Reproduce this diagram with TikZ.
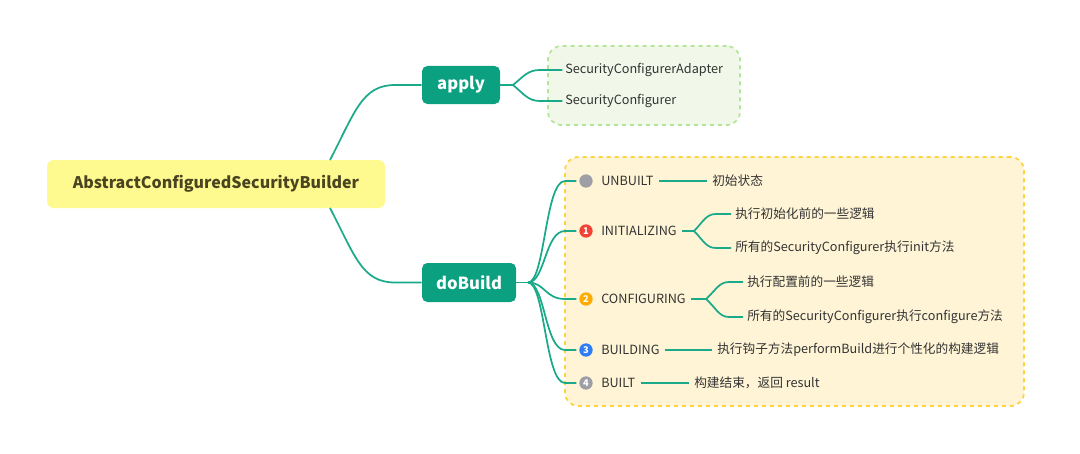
\documentclass[tikz,border=0pt]{standalone}
\usepackage{fontspec}
\setmainfont{Noto Sans CJK SC}
\usetikzlibrary{positioning}
\definecolor{teal1}{HTML}{0BA080}
\definecolor{conn}{HTML}{1AAA8A}
\definecolor{rootfill}{HTML}{FFFA90}
\definecolor{roottext}{HTML}{4A4520}
\definecolor{gfill}{HTML}{F1F8E9}
\definecolor{gborder}{HTML}{B5E59A}
\definecolor{yfill}{HTML}{FFF5D6}
\definecolor{yborder}{HTML}{FDD33F}
\definecolor{txt}{HTML}{333333}
\definecolor{bgray}{HTML}{9E9EA6}
\definecolor{bred}{HTML}{F44336}
\definecolor{borange}{HTML}{FFAB00}
\definecolor{bblue}{HTML}{2E7CF6}
\begin{document}
\begin{tikzpicture}[x=0.75pt,y=-0.75pt,
  line/.style={draw=conn,line width=1.3pt},
  lbl/.style={anchor=west,inner sep=0pt,text=txt,font=\fontsize{9.5}{11}\selectfont},
  mainbox/.style={fill=teal1,rounded corners=4pt,text=white,font=\fontsize{12.5}{14}\selectfont\bfseries,inner sep=0pt},
  bullet/.style={circle,fill=#1,minimum size=10pt,inner sep=0pt,text=white,font=\fontsize{7}{7}\selectfont\bfseries}
]
\useasboundingbox (0,0) rectangle (1080,453);
% background groups
\node[draw=gborder,fill=gfill,dashed,line width=1.3pt,rounded corners=10pt,minimum width=192*0.75pt,minimum height=79*0.75pt,inner sep=0pt] (gbox) at (644,85.5) {};
\node[draw=yborder,fill=yfill,dashed,line width=1.3pt,rounded corners=10pt,minimum width=459*0.75pt,minimum height=249*0.75pt,inner sep=0pt] (ybox) at (794.5,281.5) {};
% root
\node[fill=rootfill,rounded corners=5pt,minimum width=338*0.75pt,minimum height=48*0.75pt,inner sep=0pt,text=roottext,font=\fontsize{12}{14}\selectfont\bfseries] (root) at (216,184) {AbstractConfiguredSecurityBuilder};
% main nodes
\node[mainbox,minimum width=78*0.75pt,minimum height=38*0.75pt] (apply) at (461,85) {apply};
\node[mainbox,minimum width=94*0.75pt,minimum height=39*0.75pt] (dob) at (469,282.5) {doBuild};
% root connectors
\coordinate (rt) at (330,160);
\coordinate (rb) at (330,208);
\draw[line] (rt) .. controls (355,112) and (362,85) .. (395,85) -- (apply.west);
\draw[line] (rb) .. controls (355,256) and (362,282.5) .. (395,282.5) -- (dob.west);
% apply children
\node[lbl] (sca) at (565,70) {SecurityConfigurerAdapter};
\node[lbl] (sc) at (565,101) {SecurityConfigurer};
\coordinate (aj) at (513,85);
\draw[line] (apply.east) -- (aj);
\draw[line] (aj) .. controls (524,76) and (528,70) .. (540,70) -- ([xshift=-2pt]sca.west);
\draw[line] (aj) .. controls (524,94) and (528,101) .. (540,101) -- ([xshift=-2pt]sc.west);
% doBuild children
\coordinate (dj) at (528,282.5);
\draw[line] (dob.east) -- (dj);
\node[bullet=bgray] (b0) at (586,181) {};
\node[bullet=bred] (b1) at (586,231) {1};
\node[bullet=borange] (b2) at (586,299) {2};
\node[bullet=bblue] (b3) at (586,350) {3};
\node[bullet=bgray] (b4) at (586,383) {4};
\foreach \b/\y in {b0/181,b1/231,b2/299,b3/350,b4/383}{
  \draw[line] (dj) .. controls (545,282.5) and (545,\y) .. (565,\y) -- ([xshift=-2pt]\b.west);
}
\node[lbl] (unbuilt) at (601,181) {UNBUILT};
\node[lbl] (init) at (601,231) {INITIALIZING};
\node[lbl] (conf) at (601,299) {CONFIGURING};
\node[lbl] (bldg) at (601,350) {BUILDING};
\node[lbl] (built) at (601,383) {BUILT};
% UNBUILT
\node[lbl] (u1) at (712,181) {初始状态};
\draw[line] ([xshift=4pt]unbuilt.east) -- ([xshift=-4pt]u1.west);
% INITIALIZING
\node[lbl] (i1) at (735,214) {执行初始化前的一些逻辑};
\node[lbl] (i2) at (735,248) {所有的SecurityConfigurer执行init方法};
\coordinate (ij) at (694,231);
\draw[line] ([xshift=4pt]init.east) -- (ij);
\draw[line] (ij) .. controls (703,222) and (706,214) .. (716,214) -- ([xshift=-3pt]i1.west);
\draw[line] (ij) .. controls (703,240) and (706,248) .. (716,248) -- ([xshift=-3pt]i2.west);
% CONFIGURING
\node[lbl] (c1) at (747,282) {执行配置前的一些逻辑};
\node[lbl] (c2) at (747,317) {所有的SecurityConfigurer执行configure方法};
\coordinate (cj) at (706,299);
\draw[line] ([xshift=4pt]conf.east) -- (cj);
\draw[line] (cj) .. controls (716,290) and (719,282) .. (729,282) -- ([xshift=-3pt]c1.west);
\draw[line] (cj) .. controls (716,308) and (719,317) .. (729,317) -- ([xshift=-3pt]c2.west);
% BUILDING
\node[lbl] (bd1) at (717,350) {执行钩子方法performBuild进行个性化的构建逻辑};
\draw[line] ([xshift=4pt]bldg.east) -- ([xshift=-4pt]bd1.west);
% BUILT
\node[lbl] (bt1) at (694,383) {构建结束，返回 result};
\draw[line] ([xshift=4pt]built.east) -- ([xshift=-4pt]bt1.west);
\end{tikzpicture}
\end{document}
